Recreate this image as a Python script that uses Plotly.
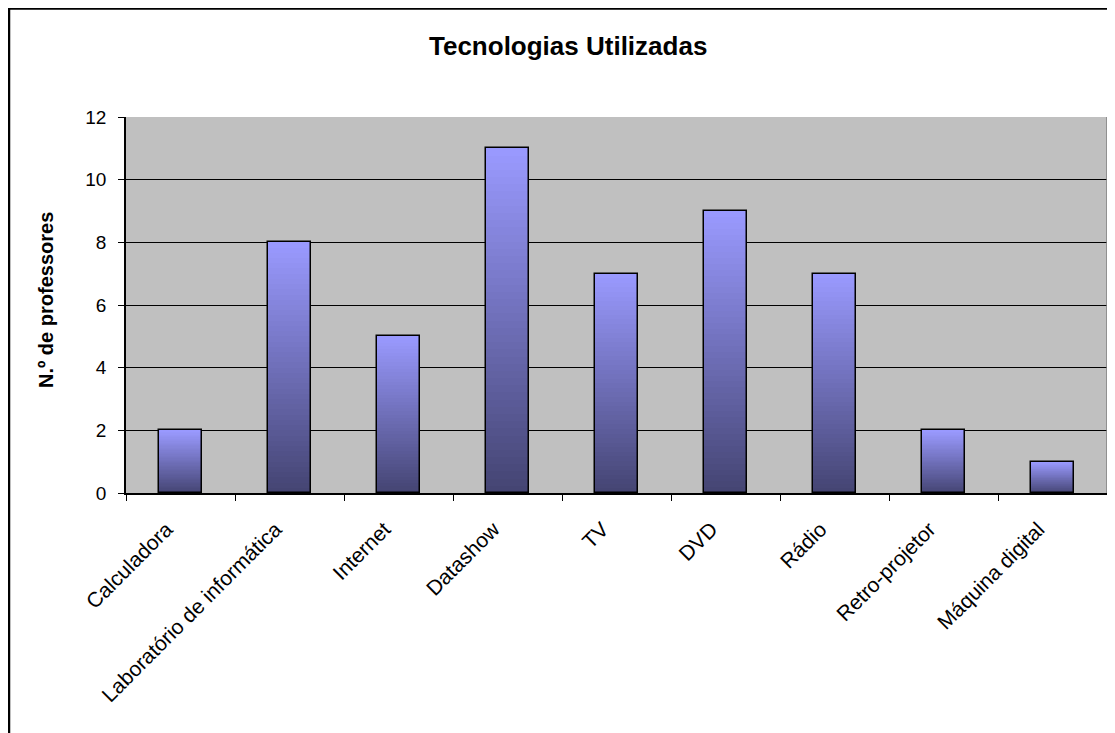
import plotly.graph_objects as go

categories = ["Calculadora", "Laboratório de informática", "Internet", "Datashow",
              "TV", "DVD", "Rádio", "Retro-projetor", "Máquina digital"]
values = [2, 8, 5, 11, 7, 9, 7, 2, 1]
y_ticks = [0, 2, 4, 6, 8, 10, 12]

title_text = "Tecnologias Utilizadas"
y_title = "N.º de professores"

FONT = "Liberation Sans, Arial, sans-serif"
N = 48
bottom_rgb = (0x44, 0x44, 0x72)
top_rgb = (0x9A, 0x9A, 0xFF)

fig = go.Figure()
for i in range(N):
    t = (i + 0.5) / N
    c = tuple(int(round(b + (tp - b) * t)) for b, tp in zip(bottom_rgb, top_rgb))
    fig.add_trace(go.Bar(
        x=categories,
        y=[v / N * 1.03 for v in values],
        base=[v * i / N for v in values],
        width=0.4,
        marker=dict(color="rgb(%d,%d,%d)" % c, line=dict(width=0)),
        showlegend=False, hoverinfo="skip",
    ))
# outline
fig.add_trace(go.Bar(
    x=categories, y=values, width=0.4,
    marker=dict(color="rgba(0,0,0,0)", line=dict(color="black", width=1.5)),
    showlegend=False,
))

# page has 8px body margin, so the figure covers 1107x725 of the window
W, H = 1107, 725
L, R, T, B = 118, 8, 109, 240
pw, ph = W - L - R, H - T - B

def px_x(px):
    return (px - L) / pw

def px_y(py):
    return (H - B - py) / ph

fig.update_layout(
    width=W, height=H,
    barmode="overlay",
    bargap=0,
    paper_bgcolor="white",
    plot_bgcolor="#C0C0C0",
    margin=dict(l=L, r=R, t=T, b=B, autoexpand=False),
    font=dict(family=FONT, color="black", size=18),
    xaxis=dict(
        type="category", tickangle=-45, tickson="boundaries",
        ticks="outside", ticklen=6, tickcolor="black", tickwidth=1,
        showline=True, linecolor="black", linewidth=1.5,
        showgrid=False, tickfont=dict(size=21, family=FONT),
        ticklabelstandoff=14, ticklabelshift=-14,
        range=[-0.5, len(categories) - 0.5], mirror=False,
    ),
    yaxis=dict(
        range=[0, 12], tickvals=y_ticks,
        ticks="outside", ticklen=6, tickcolor="black",
        showline=True, linecolor="black", linewidth=1.5,
        showgrid=True, gridcolor="black", gridwidth=1.2,
        tickfont=dict(size=19, family=FONT), zeroline=False,
        ticklabelstandoff=8,
    ),
    annotations=[
        dict(text="<b>%s</b>" % title_text, xref="paper", yref="paper",
             x=px_x(560), y=px_y(38), showarrow=False,
             font=dict(size=26, family=FONT), xanchor="center", yanchor="middle"),
        dict(text="<b>%s</b>" % y_title, xref="paper", yref="paper",
             x=px_x(38), y=px_y(292), showarrow=False, textangle=-90,
             font=dict(size=20, family=FONT), xanchor="center", yanchor="middle"),
    ],
    shapes=[
        dict(type="line", xref="paper", yref="paper", x0=1, x1=1, y0=0, y1=1,
             line=dict(color="#808080", width=1.5)),
        dict(type="path", xref="paper", yref="paper",
             path="M %f %f L %f %f L %f %f" % (px_x(1), px_y(740), px_x(1), px_y(0.5), px_x(1120), px_y(0.5)),
             line=dict(color="black", width=2.5)),
    ],
)

fig.write_html("out.html")
